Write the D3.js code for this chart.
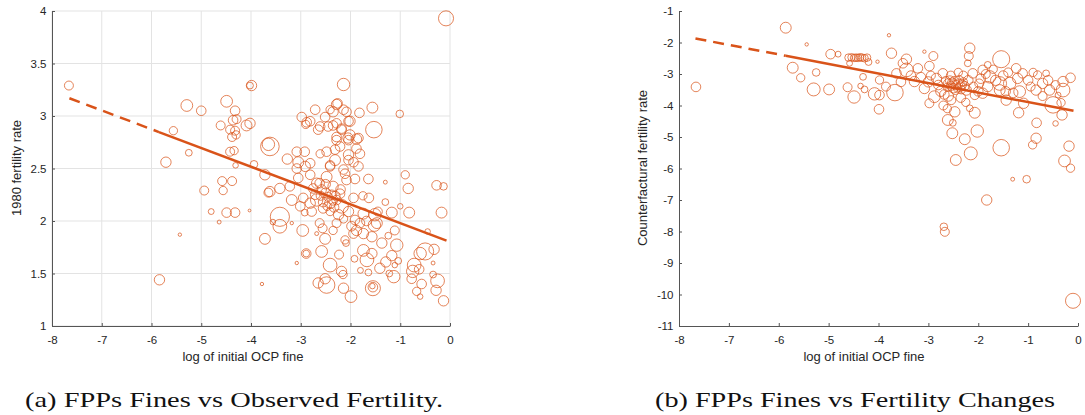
<!DOCTYPE html>
<html>
<head>
<meta charset="utf-8">
<script src="https://cdn.jsdelivr.net/npm/d3@7"></script>
<style>
  body { margin: 0; background: #fff; }
  svg { display: block; }
</style>
</head>
<body>
<svg id="chart" width="1085" height="415"></svg>
<script>
// panel (a): [log of initial OCP fine, 1980 fertility rate, weight]
const pointsA = [
  [-7.66,3.29,21],[-5.56,2.86,18],[-5.29,3.10,36],[-5.00,3.05,24],[-5.71,2.56,28],[-5.25,2.65,12],
  [-4.94,2.29,21],[-4.58,2.38,21],[-4.56,2.29,18],[-4.38,2.38,21],[-4.49,3.14,36],[-4.32,3.05,24],
  [-4.61,2.91,21],[-4.36,2.96,24],[-4.29,2.97,21],[-4.42,2.87,21],[-4.32,2.86,21],[-4.38,2.80,21],
  [-4.30,2.82,18],[-4.42,2.66,21],[-4.34,2.67,18],[-4.31,2.53,8],[-4.09,2.91,31],[-4.02,3.29,12],
  [-4.80,2.09,9],[-4.49,2.08,24],[-4.32,2.08,24],[-4.64,1.99,4],[-5.43,1.87,3],[-5.84,1.44,28],
  [-4.03,2.10,2],[-0.08,3.93,59],[-3.99,3.29,28],[-2.14,3.30,40],[-1.56,3.08,31],[-1.01,3.02,15],
  [-1.53,2.87,71],[-4.02,2.93,28],[-3.62,2.71,90],[-3.65,2.73,40],[-3.27,2.59,28],[-3.94,2.54,15],
  [-2.98,2.99,24],[-2.71,3.06,24],[-2.41,3.06,18],[-2.26,3.12,24],[-2.08,3.04,24],[-1.82,3.03,24],
  [-2.88,2.94,24],[-2.61,2.90,24],[-2.35,2.91,24],[-2.04,2.95,24],[-2.18,2.88,24],[-2.28,2.80,24],
  [-2.04,2.77,24],[-1.84,2.79,24],[-2.21,2.71,24],[-2.48,2.66,24],[-2.92,2.66,24],[-3.05,2.56,31],
  [-2.81,2.55,24],[-2.41,2.52,24],[-2.04,2.58,24],[-1.81,2.64,24],[-1.84,2.52,24],[-2.11,2.45,24],
  [-1.64,2.40,24],[-0.90,2.44,18],[-0.84,2.31,28],[-1.30,2.37,4],[-0.27,2.34,24],[-0.13,2.33,15],
  [-3.72,2.44,28],[-3.42,2.31,28],[-3.65,2.27,21],[-3.78,1.40,3],[-3.42,2.04,96],[-3.42,1.95,49],
  [-3.56,1.99,8],[-3.72,1.83,31],[-3.18,1.98,3],[-2.96,1.91,36],[-3.08,1.60,3],[-2.89,1.69,24],
  [-2.89,1.69,12],[-2.68,1.88,4],[-2.51,1.83,31],[-2.58,1.71,36],[-2.41,1.58,49],[-2.65,1.41,28],
  [-2.48,1.39,71],[-2.51,1.45,28],[-2.14,1.36,28],[-1.99,1.28,36],[-2.18,1.52,28],[-2.15,1.49,18],
  [-2.23,1.68,21],[-1.92,1.64,12],[-1.80,1.53,9],[-1.64,1.51,12],[-1.67,1.63,49],[-1.57,1.69,28],
  [-1.55,1.36,59],[-1.55,1.37,24],[-1.56,1.38,8],[-1.41,1.55,28],[-1.29,1.61,28],[-1.22,1.50,12],
  [-1.13,1.47,40],[-1.17,1.67,28],[-1.07,1.77,40],[-1.11,1.91,21],[-1.24,1.86,12],[-1.37,1.79,28],
  [-1.57,1.85,28],[-1.74,1.88,28],[-1.88,1.91,28],[-1.98,1.95,24],[-1.81,1.98,24],[-1.94,1.88,24],
  [-2.11,1.82,18],[-2.09,1.79,12],[-1.74,1.72,36],[-1.47,1.98,31],[-1.52,1.96,40],[-1.17,2.08,31],
  [-0.82,2.08,31],[-0.17,2.08,31],[-0.45,1.90,8],[-0.50,1.71,76],[-0.60,1.69,40],[-0.32,1.73,28],
  [-0.34,1.60,4],[-0.72,1.58,49],[-0.75,1.52,40],[-0.62,1.54,24],[-0.77,1.45,24],[-0.57,1.40,24],
  [-0.67,1.33,18],[-0.60,1.28,8],[-0.25,1.43,49],[-0.28,1.34,28],[-0.13,1.24,28],[-0.34,1.49,12],
  [-1.11,1.58,8],[-1.04,1.62,12],[-3.08,2.66,24],[-2.61,2.64,18],[-2.31,2.68,24],[-2.04,2.63,28],
  [-2.28,2.77,24],[-2.05,2.79,28],[-1.88,2.78,28],[-3.08,2.50,24],[-2.91,2.52,28],[-2.81,2.44,24],
  [-3.05,2.41,24],[-3.22,2.33,24],[-3.62,2.28,28],[-3.18,2.20,31],[-2.95,2.22,24],[-2.81,2.17,28],
  [-2.71,2.25,24],[-2.68,2.36,28],[-2.48,2.42,31],[-2.41,2.53,24],[-2.31,2.58,31],[-2.14,2.49,24],
  [-2.08,2.39,24],[-1.91,2.40,24],[-1.94,2.56,24],[-2.35,2.33,28],[-2.21,2.26,24],[-2.58,2.30,24],
  [-2.68,2.20,40],[-2.55,2.18,24],[-2.41,2.17,31],[-2.28,2.20,24],[-2.18,2.14,49],[-2.55,2.12,24],
  [-2.78,2.09,24],[-2.41,2.09,18],[-1.94,2.22,24],[-2.04,2.09,28],[-1.91,2.01,24],[-2.24,2.06,28],
  [-2.56,1.93,21],[-2.35,1.91,18],[-2.14,2.02,18],[-1.74,2.07,31],[-1.51,2.06,40],[-1.45,2.09,21],
  [-3.01,2.14,24],[-2.92,2.08,12],[-2.81,2.95,24],[-2.65,2.87,24],[-2.51,2.99,24],[-2.28,3.11,28],
  [-2.35,3.04,28],[-2.14,3.06,24],[-2.01,2.95,28],[-2.28,2.93,24],[-2.45,2.90,24],[-2.18,2.87,24],
  [-2.01,2.82,28],[-1.88,2.69,24],[-2.90,2.92,18],[-2.50,2.27,24],[-2.45,2.23,21],[-2.38,2.25,24],
  [-2.35,2.19,18],[-2.30,2.24,21],[-2.47,2.14,18],[-2.60,2.24,21],[-2.33,2.13,24],[-2.20,2.30,24],
  [-2.62,2.36,24],[-2.75,2.31,24],[-2.50,2.35,24],[-2.62,1.98,21],[-2.28,1.98,21],[-1.68,2.00,24],
  [-1.63,2.22,24],[-1.75,2.24,18],[-1.30,2.18,12],[-1.00,2.14,8]
];

// panel (b): [log of initial OCP fine, counterfactual fertility rate, weight]
const pointsB = [
  [-7.66,-3.41,24],[-5.86,-1.53,31],[-5.44,-2.06,3],[-5.72,-2.80,31],[-5.56,-3.12,18],[-5.25,-2.95,15],
  [-5.30,-3.49,44],[-4.99,-3.49,31],[-4.96,-2.37,24],[-4.81,-2.37,9],[-4.62,-3.42,21],[-4.49,-3.73,40],
  [-4.36,-3.38,8],[-4.28,-3.49,12],[-4.31,-3.09,12],[-4.60,-2.48,15],[-4.54,-2.47,15],[-4.49,-2.49,15],
  [-4.45,-2.48,15],[-4.41,-2.49,15],[-4.37,-2.47,15],[-4.33,-2.48,15],[-4.28,-2.50,15],[-4.23,-2.48,15],
  [-4.58,-2.66,9],[-4.20,-2.62,12],[-3.79,-1.77,3],[-4.02,-2.61,3],[-3.74,-2.34,28],[-3.44,-2.53,28],
  [-3.51,-2.66,24],[-3.98,-3.19,18],[-4.08,-3.63,40],[-3.98,-3.67,24],[-3.99,-4.12,24],[-3.67,-3.59,71],
  [-3.64,-2.98,24],[-3.44,-2.87,49],[-3.21,-2.82,24],[-3.28,-3.24,28],[-3.08,-2.29,3],[-2.90,-2.43,21],
  [-2.98,-2.75,24],[-3.08,-3.46,28],[-2.88,-3.72,36],[-2.84,-3.14,28],[-2.71,-2.98,24],
  [-2.57,-3.20,21],[-2.52,-3.28,24],[-2.48,-3.22,21],[-2.45,-3.35,24],[-2.40,-3.30,21],[-2.36,-3.40,24],
  [-2.32,-3.33,21],[-2.55,-3.38,21],[-2.60,-3.30,24],[-2.42,-3.45,18],[-2.30,-3.25,18],[-2.50,-3.45,24],
  [-2.38,-3.18,18],[-2.62,-3.42,18],[-2.27,-3.38,21],[-2.46,-3.52,18],[-2.65,-3.22,21],[-2.34,-3.50,18],
  [-2.54,-3.83,21],[-2.47,-4.20,28],[-2.61,-4.46,31],[-2.52,-4.88,31],[-2.51,-4.55,12],[-2.45,-5.73,31],
  [-2.27,-5.07,31],[-2.15,-5.52,44],[-2.17,-4.09,12],[-2.07,-4.23,31],[-2.02,-4.81,40],[-2.24,-3.51,28],
  [-2.17,-2.18,28],[-2.19,-2.43,21],[-2.21,-2.66,12],[-2.11,-2.98,24],[-1.91,-2.87,24],[-1.81,-2.71,12],
  [-1.77,-3.09,40],[-1.57,-3.30,49],[-1.54,-2.53,76],[-1.57,-3.51,31],[-1.44,-3.83,28],[-1.37,-3.30,40],
  [-1.24,-2.82,24],[-1.11,-2.98,24],[-1.21,-3.14,28],[-1.17,-3.56,36],[-1.09,-3.93,28],[-1.19,-4.23,28],
  [-1.81,-3.40,28],[-1.91,-3.61,28],[-2.07,-3.67,21],[-1.98,-3.30,21],[-1.54,-5.34,71],[-1.31,-6.34,4],
  [-1.03,-6.34,15],[-1.83,-7.00,28],[-0.83,-4.55,24],[-0.84,-5.04,28],[-0.91,-5.25,18],[-0.45,-4.57,8],
  [-0.18,-5.29,28],[-0.27,-5.76,36],[-0.15,-5.99,18],[-0.81,-3.03,18],[-0.64,-2.98,12],[-0.71,-3.30,28],
  [-0.84,-3.51,28],[-0.57,-3.51,28],[-0.50,-3.98,71],[-0.34,-3.91,18],[-0.32,-4.30,28],[-0.30,-3.24,28],
  [-0.30,-3.51,49],[-0.15,-3.12,24],[-0.40,-3.67,9],[-0.71,-3.70,21],[-2.98,-3.93,21],[-2.69,-7.85,15],
  [-2.67,-8.01,21],[-0.10,-10.20,59],
  [-3.35,-3.05,24],[-3.15,-3.10,24],[-3.00,-3.25,28],[-2.95,-3.05,21],[-2.80,-3.35,24],[-2.75,-3.55,28],
  [-2.68,-3.65,24],[-2.60,-3.70,28],[-2.55,-3.05,21],[-2.40,-2.95,18],[-2.30,-3.05,21],[-2.20,-3.20,24],
  [-2.10,-3.40,21],[-2.00,-3.55,24],[-1.95,-3.15,24],[-1.85,-3.00,21],[-1.70,-2.85,18],[-1.65,-3.20,28],
  [-1.50,-3.05,24],[-1.40,-2.95,21],[-1.30,-3.60,24],[-1.45,-3.55,24],[-1.00,-3.20,24],[-0.95,-3.40,21],
  [-0.90,-2.95,18],[-0.60,-3.20,24],[-0.45,-3.35,21],[-3.55,-3.25,24],[-3.85,-3.40,21],[-2.70,-4.00,21],
  [-2.62,-4.10,18],[-2.35,-3.75,24],[-2.25,-3.90,18]
];

// fitted lines: dashed out-of-sample part, then solid part
const fitA = { intercept: 1.80, slope: -0.179 };
const fitB = { intercept: -4.197, slope: -0.303 };
const fitBreaksA = [-7.65, -5.85, -0.07];
const fitBreaksB = [-7.67, -5.86, -0.09];

const xTicks = [-8, -7, -6, -5, -4, -3, -2, -1, 0];
const yTicksA = [1, 1.5, 2, 2.5, 3, 3.5, 4];
const yTicksB = [-11, -10, -9, -8, -7, -6, -5, -4, -3, -2, -1];

const xLabel = 'log of initial OCP fine';
const yLabelA = '1980 fertility rate';
const yLabelB = 'Counterfactural fertility rate';
const captionA = '(a) FPPs Fines vs Observed Fertility.';
const captionB = '(b) FPPs Fines vs Fertility Changes';

const svg = d3.select('#chart');
const orange = '#D95319';
const sans = '"Liberation Sans", Arial, Helvetica, sans-serif';
const rScale = d3.scaleSqrt().domain([0, 100]).range([0, 9.8]);

function drawPanel(opt) {
    const x = d3.scaleLinear().domain([-8, 0]).range([opt.left, opt.right]);
    const y = d3.scaleLinear().domain(opt.yDomain).range([326, 11]);
    const g = svg.append('g');

    // light grid, only on the first panel
    if (opt.grid) {
        g.append('g').selectAll('line.gx').data(xTicks).enter().append('line')
            .attr('x1', d => x(d)).attr('x2', d => x(d))
            .attr('y1', 11).attr('y2', 326)
            .attr('stroke', '#e3e3e3').attr('stroke-width', 1);
        g.append('g').selectAll('line.gy').data(opt.yTicks).enter().append('line')
            .attr('x1', opt.left).attr('x2', opt.right)
            .attr('y1', d => y(d)).attr('y2', d => y(d))
            .attr('stroke', '#e3e3e3').attr('stroke-width', 1);
    }

    // bubbles
    g.append('g').selectAll('circle')
        .data(opt.points)
        .enter()
        .append('circle')
            .attr('cx', d => x(d[0]))
            .attr('cy', d => y(d[1]))
            .attr('r', d => rScale(d[2]))
            .attr('fill', 'none')
            .attr('stroke', orange)
            .attr('stroke-opacity', 0.8)
            .attr('stroke-width', 0.9);

    // fitted line
    const fy = v => opt.fit.intercept + opt.fit.slope * v;
    const b = opt.breaks;
    g.append('line')
        .attr('x1', x(b[0])).attr('y1', y(fy(b[0])))
        .attr('x2', x(b[1])).attr('y2', y(fy(b[1])))
        .attr('stroke', orange).attr('stroke-width', 2.5)
        .attr('stroke-dasharray', '11,7');
    g.append('line')
        .attr('x1', x(b[1])).attr('y1', y(fy(b[1])))
        .attr('x2', x(b[2])).attr('y2', y(fy(b[2])))
        .attr('stroke', orange).attr('stroke-width', 2.5);

    // axes
    const xAxis = g.append('g')
        .attr('transform', 'translate(0,326)')
        .call(d3.axisBottom(x).tickValues(xTicks).tickFormat(d => String(d))
            .tickSizeInner(-3).tickSizeOuter(0).tickPadding(9.5));
    const yAxis = g.append('g')
        .attr('transform', `translate(${opt.left},0)`)
        .call(d3.axisLeft(y).tickValues(opt.yTicks).tickFormat(d => String(d))
            .tickSizeInner(-3).tickSizeOuter(0).tickPadding(5.5));
    [xAxis, yAxis].forEach(a => {
        a.select('.domain').attr('stroke', '#555');
        a.selectAll('.tick line').attr('stroke', '#555');
        a.selectAll('.tick text')
            .attr('fill', '#262626')
            .style('font-family', sans)
            .style('font-size', '11.5px');
    });

    g.append('text')
        .attr('x', opt.xLabelX).attr('y', 361)
        .attr('text-anchor', 'middle')
        .attr('fill', '#262626')
        .style('font-family', sans).style('font-size', '13px')
        .text(xLabel);
    g.append('text')
        .attr('transform', `translate(${opt.yLabelX},168) rotate(-90)`)
        .attr('text-anchor', 'middle')
        .attr('fill', '#262626')
        .style('font-family', sans).style('font-size', '13px')
        .text(opt.yLabel);

    // caption, stretched to the reference width
    svg.append('text')
        .attr('x', opt.capX).attr('y', 407)
        .attr('text-anchor', 'middle')
        .attr('fill', '#111')
        .attr('textLength', opt.capWidth)
        .attr('lengthAdjust', 'spacingAndGlyphs')
        .style('font-family', '"Liberation Serif", "Times New Roman", serif')
        .style('font-size', '22px')
        .text(opt.caption);
}

drawPanel({
    left: 52, right: 450, yDomain: [1, 4], yTicks: yTicksA, grid: true,
    points: pointsA, fit: fitA, breaks: fitBreaksA,
    xLabelX: 243, yLabelX: 21, yLabel: yLabelA,
    caption: captionA, capX: 234, capWidth: 418
});
drawPanel({
    left: 679, right: 1078, yDomain: [-11, -1], yTicks: yTicksB, grid: false,
    points: pointsB, fit: fitB, breaks: fitBreaksB,
    xLabelX: 864, yLabelX: 647, yLabel: yLabelB,
    caption: captionB, capX: 855, capWidth: 400
});
</script>
</body>
</html>
